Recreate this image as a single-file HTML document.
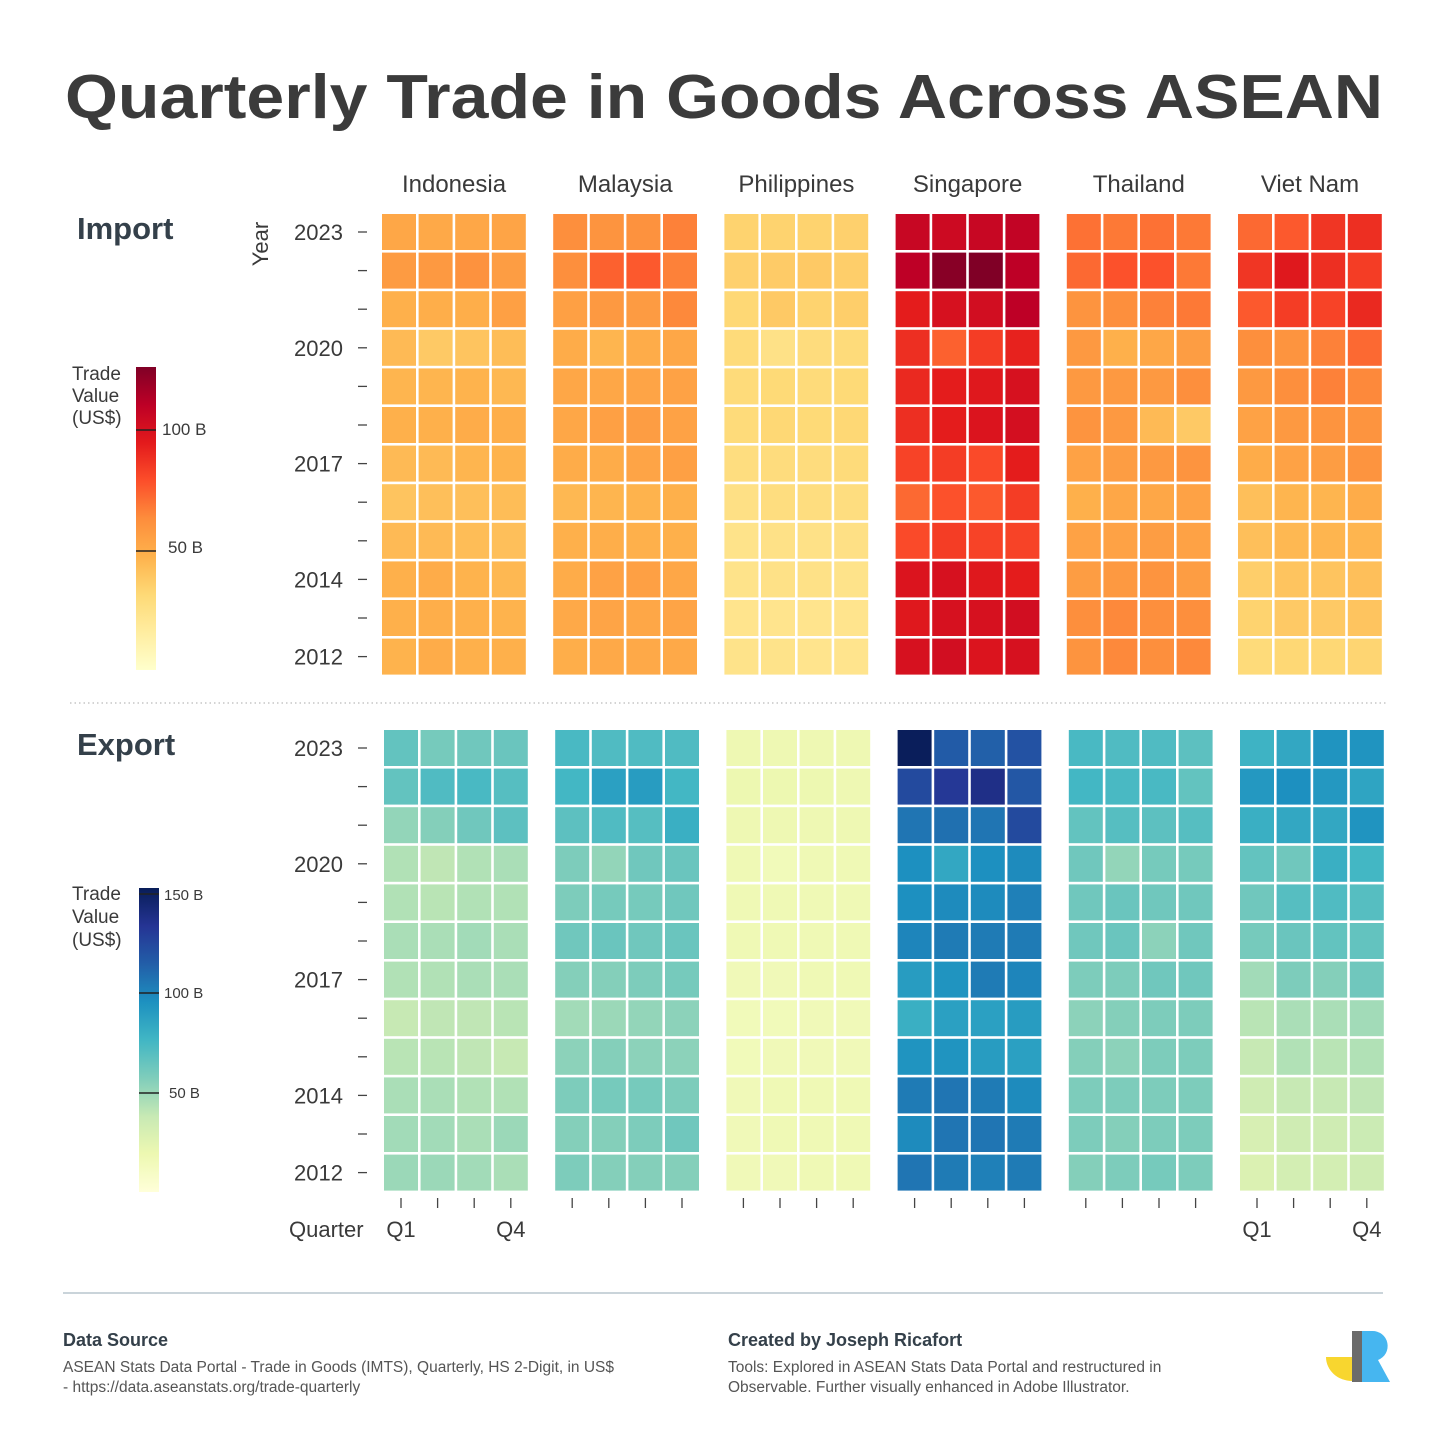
<!DOCTYPE html>
<html><head><meta charset="utf-8"><style>
html,body{margin:0;padding:0;background:#fff}
svg{display:block}
text{font-family:"Liberation Sans",sans-serif;fill:#3a3a3a}
</style></head><body>
<svg id="chart" width="1456" height="1456" viewBox="0 0 1456 1456">
<defs>
<linearGradient id="gImp" x1="0" y1="1" x2="0" y2="0">
<stop offset="0" stop-color="#ffffcc"/><stop offset=".125" stop-color="#ffeda0"/><stop offset=".25" stop-color="#fed976"/><stop offset=".375" stop-color="#feb24c"/><stop offset=".5" stop-color="#fd8d3c"/><stop offset=".625" stop-color="#fc4e2a"/><stop offset=".75" stop-color="#e31a1c"/><stop offset=".875" stop-color="#bd0026"/><stop offset="1" stop-color="#800026"/>
</linearGradient>
<linearGradient id="gExp" x1="0" y1="1" x2="0" y2="0">
<stop offset="0" stop-color="#ffffd9"/><stop offset=".125" stop-color="#edf8b1"/><stop offset=".25" stop-color="#c7e9b4"/><stop offset=".375" stop-color="#7fcdbb"/><stop offset=".5" stop-color="#41b6c4"/><stop offset=".625" stop-color="#1d91c0"/><stop offset=".75" stop-color="#225ea8"/><stop offset=".875" stop-color="#253494"/><stop offset="1" stop-color="#081d58"/>
</linearGradient>
</defs>
<text x="65" y="118" font-size="62" font-weight="bold" textLength="1318" lengthAdjust="spacingAndGlyphs" style="fill:#3b3b3b">Quarterly Trade in Goods Across ASEAN</text>
<g id="heads"></g>
<text x="77" y="239" font-size="31" font-weight="bold" style="fill:#34404a">Import</text>
<text x="77" y="755" font-size="31" font-weight="bold" style="fill:#34404a">Export</text>
<text transform="translate(268,244) rotate(-90)" text-anchor="middle" font-size="22">Year</text>
<g>
<text x="72" y="380" font-size="19">Trade</text><text x="72" y="402" font-size="19">Value</text><text x="72" y="424" font-size="19">(US$)</text>
<rect x="136" y="367" width="20" height="303" fill="url(#gImp)"/>
<line x1="136" x2="156" y1="430" y2="430" stroke="#222" stroke-width="1.5"/>
<line x1="136" x2="156" y1="551" y2="551" stroke="#222" stroke-width="1.5"/>
<text x="162" y="435" font-size="17">100 B</text><text x="168" y="553" font-size="17">50 B</text>
</g>
<g>
<text x="72" y="900" font-size="19">Trade</text><text x="72" y="923" font-size="19">Value</text><text x="72" y="946" font-size="19">(US$)</text>
<rect x="139" y="888" width="20" height="304" fill="url(#gExp)"/>
<line x1="139" x2="159" y1="894" y2="894" stroke="#222" stroke-width="1.5"/>
<line x1="139" x2="159" y1="993" y2="993" stroke="#222" stroke-width="1.5"/>
<line x1="139" x2="159" y1="1093" y2="1093" stroke="#222" stroke-width="1.5"/>
<text x="164" y="900" font-size="15">150 B</text><text x="164" y="998" font-size="15">100 B</text><text x="169" y="1098" font-size="15">50 B</text>
</g>
<line x1="70" x2="1387" y1="703" y2="703" stroke="#bbb" stroke-width="1.2" stroke-dasharray="1.5 3"/>
<g id="impG"></g>
<g id="expG"></g>
<g id="axes"></g>
<text x="289" y="1237" font-size="22">Quarter</text>
<line x1="63" x2="1383" y1="1293" y2="1293" stroke="#b9c5cd" stroke-width="1.5"/>
<g>
<text x="63" y="1346" font-size="18" font-weight="bold" style="fill:#34404a">Data Source</text>
<text x="63" y="1372" font-size="15.5" style="fill:#555">ASEAN Stats Data Portal - Trade in Goods (IMTS), Quarterly, HS 2-Digit, in US$</text>
<text x="63" y="1392" font-size="15.5" style="fill:#555">- https://data.aseanstats.org/trade-quarterly</text>
</g>
<g>
<text x="728" y="1346" font-size="18" font-weight="bold" style="fill:#34404a">Created by Joseph Ricafort</text>
<text x="728" y="1372" font-size="15.5" style="fill:#555">Tools: Explored in ASEAN Stats Data Portal and restructured in</text>
<text x="728" y="1392" font-size="15.5" style="fill:#555">Observable. Further visually enhanced in Adobe Illustrator.</text>
</g>
<g>
<path d="M1326 1357 h26 v24 a26 24 0 0 1 -26 -24z" fill="#f8d62f"/>
<path d="M1352 1331 h20 a15 15 0 0 1 6 29 l12 22 h-38z" fill="#46b6f0"/>
<rect x="1352" y="1331" width="10" height="51" fill="#6b6b6b"/>
</g>
</svg>
<script>
const countries = ["Indonesia","Malaysia","Philippines","Singapore","Thailand","Viet Nam"];
const years = [2012,2013,2014,2015,2016,2017,2018,2019,2020,2021,2022,2023];
const yearLabels = ["2023","","","2020","","","2017","","","2014","","2012"];
const quarters = ["Q1","Q2","Q3","Q4"];
// import values, rows 2012..2023, each [Q1,Q2,Q3,Q4], US$ B
const impIndonesia = [[47,50,48,48],[48,49,48,47],[48,50,47,45],[44,44,43,42],[40,42,42,43],[44,44,46,47],[48,48,50,49],[46,46,47,45],[44,38,40,43],[48,49,49,55],[57,58,61,56],[52,51,52,53]];
const impMalaysia = [[49,51,51,51],[51,53,52,53],[50,54,55,52],[48,49,48,48],[45,46,47,48],[50,50,53,55],[52,55,56,54],[52,52,53,54],[50,46,50,52],[55,58,57,64],[62,74,76,66],[62,60,61,66]];
const impPhilippines = [[24,24,23,23],[23,23,23,23],[24,25,25,24],[24,25,25,26],[26,28,28,28],[28,29,29,30],[30,32,31,32],[30,31,30,31],[30,25,29,30],[32,38,34,36],[35,37,38,36],[34,34,34,35]];
const impSingapore = [[100,102,98,100],[96,100,100,102],[98,100,96,94],[80,84,82,82],[72,78,76,84],[82,84,80,94],[88,94,98,101],[90,94,96,100],[88,74,84,92],[94,100,102,110],[110,124,126,110],[106,104,106,108]];
const impThailand = [[60,64,62,64],[62,64,62,62],[56,58,60,56],[54,54,56,54],[48,52,52,54],[54,56,58,60],[60,58,44,38],[58,58,58,62],[58,48,52,56],[60,62,66,68],[72,78,78,68],[70,68,70,68]];
const impVietNam = [[30,32,32,33],[34,38,38,40],[36,40,40,42],[42,45,46,46],[42,46,46,50],[50,54,56,60],[54,58,60,60],[58,62,66,64],[62,60,66,72],[76,84,82,90],[86,96,88,84],[72,76,86,88]];
// export values
const expIndonesia = [[50,50,48,46],[48,48,46,50],[46,46,44,44],[42,42,40,38],[38,40,40,42],[44,44,46,46],[46,46,48,46],[44,42,44,44],[44,40,44,46],[52,56,62,68],[66,72,74,70],[66,60,62,64]];
const expMalaysia = [[58,56,56,56],[56,56,58,62],[58,60,60,58],[54,56,54,54],[48,50,52,54],[56,56,58,60],[62,64,62,64],[58,60,60,62],[58,52,62,64],[68,72,70,80],[76,88,90,76],[74,72,72,72]];
const expPhilippines = [[16,16,17,17],[16,17,17,17],[16,17,17,17],[15,16,16,16],[15,15,16,16],[16,16,17,17],[17,17,17,17],[17,17,17,17],[17,15,17,17],[18,18,18,18],[19,19,19,18],[18,18,18,18]];
const expSingapore = [[106,104,102,104],[98,106,106,104],[104,106,104,98],[94,94,90,88],[80,88,88,90],[90,94,104,100],[100,104,104,104],[96,98,98,102],[96,84,96,98],[106,108,106,124],[124,132,138,118],[152,116,114,120]];
const expThailand = [[56,58,60,58],[58,56,58,58],[58,58,58,58],[56,54,58,58],[54,56,58,58],[58,58,62,62],[62,64,54,62],[62,64,62,62],[62,52,60,60],[66,70,68,70],[76,74,74,66],[74,72,72,68]];
const expVietNam = [[28,32,32,34],[30,34,34,36],[34,38,38,40],[38,44,42,44],[42,46,46,48],[48,58,56,62],[60,64,66,66],[62,70,72,70],[66,62,80,76],[80,84,84,94],[92,96,92,86],[78,84,94,94]];
const impMax = 126, expMax = 153;

const impData = [impIndonesia,impMalaysia,impPhilippines,impSingapore,impThailand,impVietNam];
const expData = [expIndonesia,expMalaysia,expPhilippines,expSingapore,expThailand,expVietNam];
const YlOrRd = ["#ffffcc","#ffeda0","#fed976","#feb24c","#fd8d3c","#fc4e2a","#e31a1c","#bd0026","#800026"];
const YlGnBu = ["#ffffd9","#edf8b1","#c7e9b4","#7fcdbb","#41b6c4","#1d91c0","#225ea8","#253494","#081d58"];
function hex(c){return [1,3,5].map(i=>parseInt(c.substr(i,2),16));}
function interp(stops,t){t=Math.max(0,Math.min(1,t));const n=stops.length-1;const i=Math.min(n-1,Math.floor(t*n));const f=t*n-i;const a=hex(stops[i]),b=hex(stops[i+1]);return "rgb("+a.map((v,k)=>Math.round(v+(b[k]-v)*f)).join(",")+")";}
const NS="http://www.w3.org/2000/svg";
const rowPitch=38.6, cellH=36, colPitch=36.6, cellW=34, groupPitch=171.2;
function xPos(ci,q,x0){return x0+ci*groupPitch+q*colPitch;}
function yPos(yi,y0){return y0+(years.length-1-yi)*rowPitch;}
function drawGrid(g,data,stops,max,x0,y0,kind){
  data.forEach((rows,ci)=>{
    rows.forEach((vals,yi)=>{
      vals.forEach((v,q)=>{
        const r=document.createElementNS(NS,"rect");
        r.setAttribute("x",xPos(ci,q,x0));r.setAttribute("y",yPos(yi,y0));
        r.setAttribute("width",cellW);r.setAttribute("height",cellH);
        r.setAttribute("fill",interp(stops,v/max));
        
        
        g.appendChild(r);
      });
    });
  });
}
drawGrid(document.getElementById("impG"),impData,YlOrRd,impMax,382,214,"import");
drawGrid(document.getElementById("expG"),expData,YlGnBu,expMax,384,730,"export");
const heads=document.getElementById("heads");
countries.forEach((c,ci)=>{
  const t=document.createElementNS(NS,"text");
  t.setAttribute("x",382+ci*groupPitch+72);t.setAttribute("y",192);
  t.setAttribute("text-anchor","middle");t.setAttribute("font-size","24");
  t.textContent=c;
  
  
  heads.appendChild(t);
});
const axes=document.getElementById("axes");
function line(x1,y1,x2,y2){const l=document.createElementNS(NS,"line");l.setAttribute("x1",x1);l.setAttribute("y1",y1);l.setAttribute("x2",x2);l.setAttribute("y2",y2);l.setAttribute("stroke","#444");l.setAttribute("stroke-width","1.3");
  
  
  axes.appendChild(l);}
[214,730].forEach(y0=>{
  yearLabels.forEach((lab,k)=>{
    const cy=y0+k*rowPitch+cellH/2;
    line(358,cy,367,cy);
    if(lab){const t=document.createElementNS(NS,"text");t.setAttribute("x",343);t.setAttribute("y",cy+8);t.setAttribute("text-anchor","end");t.setAttribute("font-size","22");t.textContent=lab;
      
      
      axes.appendChild(t);}
  });
});
countries.forEach((c,ci)=>{
  quarters.forEach((q,qi)=>{
    const cx=xPos(ci,qi,384)+cellW/2;
    line(cx,1198,cx,1208);
    if((ci===0||ci===5)&&(qi===0||qi===3)){
      const t=document.createElementNS(NS,"text");t.setAttribute("x",cx);t.setAttribute("y",1237);t.setAttribute("text-anchor","middle");t.setAttribute("font-size","22");t.textContent=q;
      
      
      axes.appendChild(t);
    }
  });
});
</script>
</body></html>
